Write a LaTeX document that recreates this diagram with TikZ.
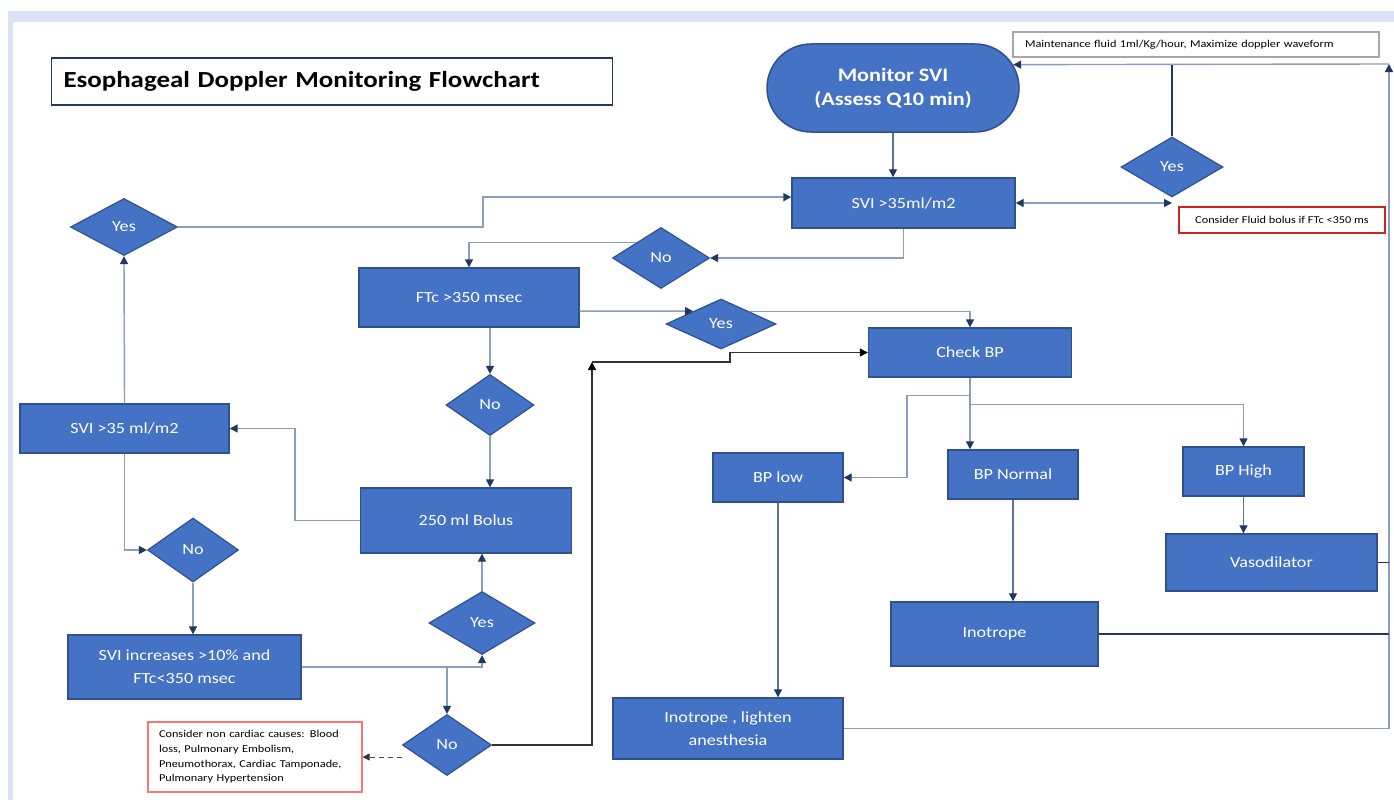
\documentclass[tikz,border=0pt]{standalone}
\usepackage{fontspec}
\setmainfont{Carlito}[FakeStretch=1.17]
\usetikzlibrary{arrows.meta,shapes.geometric,shapes.misc}

\definecolor{boxfill}{RGB}{68,114,196}
\definecolor{boxline}{RGB}{47,82,143}
\definecolor{lnlight}{RGB}{140,158,190}
\definecolor{lnmid}{RGB}{95,115,150}
\definecolor{lndark}{RGB}{31,56,100}
\definecolor{notered}{RGB}{205,35,35}
\definecolor{band}{RGB}{218,227,243}

\begin{document}
\begin{tikzpicture}[x=1pt,y=-1pt,
			>={Triangle[length=8pt,width=8pt,color=lndark]},
			box/.style={draw=boxline,fill=boxfill,line width=1.4pt,text=white,align=center,inner sep=0pt,
				font=\fontsize{15.5}{22.7}\selectfont},
			dia/.style={diamond,draw=boxline,fill=boxfill,line width=1.2pt,text=white,inner sep=0pt,
				font=\fontsize{15.5}{18}\selectfont},
			note/.style={draw,fill=white,line width=1.2pt,inner sep=0pt,font=\fontsize{10.5}{14.7}\selectfont},
			conn/.style={draw=lnlight,line width=1.4pt},
			connm/.style={draw=lnmid,line width=1.2pt},
			connd/.style={draw=lndark,line width=1.2pt},
			connk/.style={draw=black!80,line width=1.1pt}]
			\fill[white] (0,0) rectangle (1394,800);
			\useasboundingbox (0,0) rectangle (1394,800);
			\fill[band] (8,11) rectangle (1394,22);
			\fill[band] (8,22) rectangle (13,800);

			\node[draw=lndark,line width=1.2pt,minimum width=561pt,minimum height=47pt,text width=537pt,
				inner xsep=12pt,align=left,font=\bfseries\fontsize{23}{28}\selectfont]
				(title) at (332,81.5) {Esophageal Doppler Monitoring Flowchart};
			\node[rounded rectangle,draw=boxline,fill=boxfill,line width=1.5pt,text=white,align=center,
				minimum width=252pt,minimum height=88pt,inner sep=0pt,font=\bfseries\fontsize{19}{24}\selectfont]
				(monitor) at (893,88) {Monitor SVI\\(Assess Q10 min)};
			\node[note,draw=gray!70,minimum width=366pt,minimum height=25pt,text width=342pt,align=left]
				(maint) at (1196,44.5) {Maintenance fluid 1ml/Kg/hour, Maximize doppler waveform};
			\node[note,draw=notered,minimum width=206pt,minimum height=26pt]
				(fbnote) at (1282,220) {Consider Fluid bolus if FTc <350 ms};
			\node[note,draw=red!55,minimum width=214pt,minimum height=70pt,text width=192pt,align=left]
				(ncnote) at (255,757) {Consider non cardiac causes: Blood\\loss, Pulmonary Embolism,\\Pneumothorax, Cardiac Tamponade,\\Pulmonary Hypertension};

			\node[box,minimum width=223pt,minimum height=50pt] (svi) at (903.5,203) {SVI >35ml/m2};
			\node[box,minimum width=220pt,minimum height=59pt] (ftc) at (469,297.5) {FTc >350 msec};
			\node[box,minimum width=203pt,minimum height=49pt] (checkbp) at (970,352.5) {Check BP};
			\node[box,minimum width=209pt,minimum height=49pt] (svi35) at (124.5,428.5) {SVI >35 ml/m2};
			\node[box,minimum width=211pt,minimum height=65pt] (bolus) at (466,520.5) {250 ml Bolus};
			\node[box,minimum width=233pt,minimum height=64pt] (sviinc) at (184.5,667) {SVI increases >10\% and\\FTc<350 msec};
			\node[box,minimum width=130pt,minimum height=49pt] (bplow) at (778,477.5) {BP low};
			\node[box,minimum width=130pt,minimum height=49pt] (bpnormal) at (1013,474.5) {BP Normal};
			\node[box,minimum width=121pt,minimum height=49pt] (bphigh) at (1243.5,471.5) {BP High};
			\node[box,minimum width=211pt,minimum height=57pt] (vaso) at (1271.5,562.5) {Vasodilator};
			\node[box,minimum width=207pt,minimum height=64pt] (ino) at (994.5,634) {Inotrope};
			\node[box,minimum width=230pt,minimum height=61pt] (inolight) at (728,728.5) {Inotrope , lighten\\anesthesia};

			\node[dia,minimum width=102pt,minimum height=60pt] (yes1) at (1172,167) {Yes};
			\node[dia,minimum width=97pt,minimum height=61pt] (no1) at (661,258) {No};
			\node[dia,minimum width=110pt,minimum height=50pt] (yes2) at (721,324) {Yes};
			\node[dia,minimum width=107pt,minimum height=57pt] (yesl) at (124,227) {Yes};
			\node[dia,minimum width=88pt,minimum height=61pt] (no2) at (490,405) {No};
			\node[dia,minimum width=91pt,minimum height=64pt] (nol) at (193,550) {No};
			\node[dia,minimum width=106pt,minimum height=63pt] (yes3) at (482,623) {Yes};
			\node[dia,minimum width=89pt,minimum height=61pt] (no3) at (447,745) {No};

			\coordinate (rt) at (1389,64);
			\coordinate (j1) at (592,362);
			\coordinate (j2) at (730,362);

			% top loop
			\draw[connm,->] (monitor.south) -- (monitor.south |- svi.north);
			\draw[conn,<->] (svi.east) -- (svi.east -| yes1.south);
			\draw[connd] (yes1.north) -- (yes1.north |- rt);
			\draw[conn,->] (rt) -- (monitor.11.4);
			\draw[conn,->] (inolight.east) -| (rt);
			\draw[connd] (vaso.east) -- (vaso.east -| rt);
			\draw[connd] (ino.east) -- (ino.east -| rt);

			\draw[conn,->] (svi.south) |- (no1.east);
			\draw[conn,->] (no1.north west) -| (ftc.north);
			\draw[conn,->] (ftc.-7) -- (yes2.north west);
			\draw[conn,->] (yes2.north east) -| (checkbp.north);
			\draw[conn,->] (no2.north |- ftc.south) -- (no2.north);
			\draw[conn,->] (no2.south) -- (no2.south |- bolus.north);
			\draw[conn,->] (bolus.west) -- ++(-65,0) |- (svi35.east);
			\draw[conn,->] (svi35.north) -- (yesl.south);
			\draw[conn,->] (yesl.east) -- ++(305,0) |- (svi.177);
			\draw[conn,->] (svi35.south) |- (nol.west);
			\draw[conn,->] (nol.south) -- (nol.south |- sviinc.north);
			\draw[conn,->] (sviinc.east) -| (yes3.south);
			\draw[conn,->] (no3.north |- sviinc.east) -- (no3.north);
			\draw[conn,->] (yes3.north) -- (yes3.north |- bolus.south);
			\draw[connk,-{Triangle[length=8pt,width=8pt,color=black]}] (no3.east) -| (j1);
			\draw[connk,-{Triangle[length=8pt,width=8pt,color=black]}] (j1) -- (j2) |- (checkbp.west);
			\draw[draw=black!70,line width=1pt,dash pattern=on 5pt off 4pt,-{Triangle[length=7pt,width=7pt,color=black!80]}]
				(ncnote.east -| no3.west) -- (ncnote.east);

			% blood pressure branches
			\draw[conn,->] (checkbp.south) -- (checkbp.south |- bpnormal.north);
			\draw[conn,->] ([yshift=-18pt]checkbp.south) -- ++(-63,0) |- (bplow.east);
			\draw[conn,->] ([yshift=-27pt]checkbp.south) -| (bphigh.north);
			\draw[connm,->] (bplow.south) -- (bplow.south |- inolight.north);
			\draw[connm,->] (bpnormal.south) -- (bpnormal.south |- ino.north);
			\draw[connm,->] (bphigh.south) -- (bphigh.south |- vaso.north);
		\end{tikzpicture}
\end{document}
